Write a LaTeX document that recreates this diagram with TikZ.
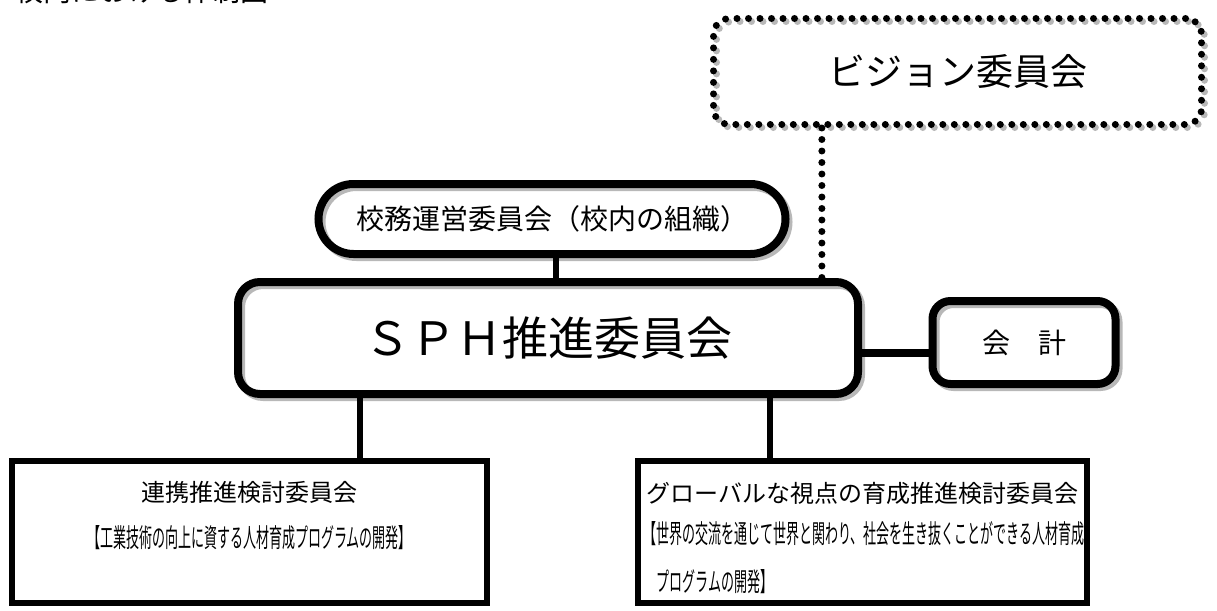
\documentclass[tikz,border=0pt]{standalone}
\usepackage{fontspec}
\setmainfont{Noto Sans CJK JP}
\newfontfamily\condfont[FakeStretch=0.5]{Noto Sans CJK JP}
\usetikzlibrary{calc}
\begin{document}
\begin{tikzpicture}[x=1pt,y=-1pt,
  shad/.style={preaction={draw=black!28, transform canvas={shift={(3pt,-3pt)}}}},
  roundbox/.style={draw, line width=8pt, rounded corners=#1, shad, inner sep=0pt, align=center},
  dotbox/.style={draw, line width=7pt, dash pattern=on 0pt off 11.5pt, line cap=round, rounded corners=#1, shad, inner sep=0pt},
  sqbox/.style={draw, line width=6pt, inner sep=0pt},
  dotlink/.style={line width=7pt, dash pattern=on 0pt off 11.5pt, line cap=round},
]
\useasboundingbox (0,0) rectangle (1217,610);
\node[font=\fontsize{28}{30}\selectfont, text height=0.8em, text depth=0.2em, inner sep=0pt] (title) at (142,-1) {校内における体制図};

\node[dotbox=16pt, minimum width=488pt, minimum height=106pt, font=\fontsize{37}{40}\selectfont] (vision) at (957.5,71.5) {\raisebox{-10pt}{ビジョン委員会}};

\node[roundbox=35pt, minimum width=467pt, minimum height=70pt, font=\fontsize{28}{30}\selectfont] (komu) at (552,219) {校務運営委員会（校内の組織）};

\node[roundbox=22pt, minimum width=620pt, minimum height=112pt, font=\fontsize{46}{48}\selectfont] (sph) at (548,338) {\raisebox{-7pt}{ＳＰＨ推進委員会}};

\node[roundbox=18pt, minimum width=183pt, minimum height=83pt, font=\fontsize{28}{30}\selectfont] (kaikei) at (1024,342.5) {会　計};

\node[sqbox, minimum width=475pt, minimum height=142pt] (renkei) at (249.5,532) {%
\begin{minipage}[c][142pt][t]{470pt}\centering
{\fontsize{24}{24}\selectfont\rule{0pt}{40pt}連携推進検討委員会\par}
{\condfont\fontsize{26}{46}\selectfont 【工業技術の向上に資する人材育成プログラムの開発】\par}
\end{minipage}};

\node[sqbox, minimum width=449pt, minimum height=142pt] (global) at (862.5,532) {%
\begin{minipage}[c][142pt][t]{440pt}
{\centering\fontsize{24}{24}\selectfont\rule{0pt}{41pt}グローバルな視点の育成推進検討委員会\par}
{\condfont\fontsize{26}{41}\selectfont\hspace*{1pt}【世界の交流を通じて世界と関わり、社会を生き抜くことができる人材育成\par}
{\condfont\fontsize{26}{48}\selectfont\hspace*{14pt}プログラムの開発】\par}
\end{minipage}};

\draw[line width=6pt] ([xshift=4pt]komu.south) -- ([xshift=4pt]komu.south |- sph.north);
\coordinate (vdrop) at ($(vision.south west)!0.226!(vision.south east)$);
\draw[dotlink] (vdrop) -- (vdrop |- sph.north);
\coordinate (kk) at ([yshift=-10pt]kaikei.west);
\draw[line width=8pt] (kk) -- (kk -| sph.east);
\coordinate (sl) at ($(sph.south west)!0.2!(sph.south east)$);
\draw[line width=6pt] (sl) -- (sl |- renkei.north);
\coordinate (sr) at ($(sph.south west)!0.853!(sph.south east)$);
\draw[line width=6pt] (sr) -- (sr |- global.north);
\end{tikzpicture}
\end{document}
